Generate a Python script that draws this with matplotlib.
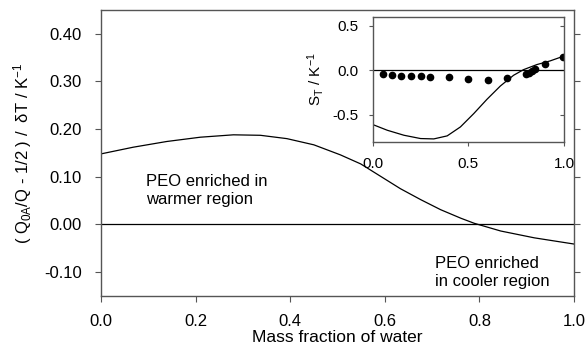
"""Main curve of (Q0A/Q - 1/2)/dT vs water mass fraction, with an S_T inset."""

import matplotlib

matplotlib.use("Agg")
import matplotlib.pyplot as plt
from matplotlib.lines import TICKLEFT

plt.rcParams["font.family"] = ["Liberation Sans", "DejaVu Sans"]
plt.rcParams["mathtext.default"] = "regular"

# main panel curve
main_x = [0.0, 0.068, 0.139, 0.210, 0.280, 0.337, 0.393, 0.450, 0.506, 0.549, 0.591, 0.633,
          0.676, 0.718, 0.761, 0.789, 0.845, 0.916, 1.0]
main_y = [0.148, 0.162, 0.174, 0.183, 0.188, 0.187, 0.180, 0.167, 0.146, 0.127, 0.101, 0.075,
          0.052, 0.031, 0.013, 0.0025, -0.0137, -0.028, -0.041]

# inset curve
inset_x = [0.0, 0.076, 0.163, 0.25, 0.319, 0.389, 0.458, 0.528, 0.597, 0.667, 0.736, 0.788,
           0.858, 0.927, 1.0]
inset_y = [-0.608, -0.672, -0.728, -0.765, -0.769, -0.735, -0.635, -0.485, -0.325, -0.176,
           -0.056, 0.007, 0.064, 0.105, 0.16]

# inset measured points
pts_x = [0.055, 0.10, 0.15, 0.20, 0.25, 0.30, 0.40, 0.50, 0.60, 0.70, 0.80, 0.815, 0.83, 0.85,
         0.90, 0.995]
pts_y = [-0.041, -0.048, -0.06, -0.06, -0.063, -0.071, -0.078, -0.093, -0.104, -0.086, -0.041,
         -0.025, -0.012, 0.011, 0.067, 0.153]

main_yticks = [-0.10, 0.00, 0.10, 0.20, 0.30, 0.40]
main_xticks = [0.0, 0.2, 0.4, 0.6, 0.8, 1.0]
inset_ticks_y = [-0.5, 0.0, 0.5]
inset_ticks_x = [0.0, 0.5, 1.0]

SPINE = "#555555"

fig = plt.figure(figsize=(5.87, 3.52), dpi=100)

ax = fig.add_axes([0.172, 0.159, 0.806, 0.813])
ax.plot(main_x, main_y, color="black", lw=0.9)
ax.axhline(0.0, color="black", lw=0.9)
ax.set_xlim(0, 1)
ax.set_ylim(-0.15, 0.45)
ax.set_xticks(main_xticks)
ax.set_xticklabels([f"{v:.1f}" for v in main_xticks])
ax.set_yticks(main_yticks)
ax.set_yticklabels([f"{v:.2f}" for v in main_yticks])
ax.tick_params(axis="both", direction="out", length=4, width=0.8, color=SPINE, labelsize=12)
ax.tick_params(axis="y", right=True, pad=10)
ax.tick_params(axis="x", pad=9)
for s in ax.spines.values():
    s.set_color(SPINE)
    s.set_linewidth(1.0)
ax.set_xlabel("Mass fraction of water", fontsize=12.5, labelpad=1)
ax.set_ylabel("( Q$_{0A}$/Q - 1/2 ) /  δT / K$^{-1}$", fontsize=12, labelpad=7)

ax.text(0.095, 0.105, "PEO enriched in\nwarmer region", fontsize=12, va="top", ha="left")
ax.text(0.705, -0.067, "PEO enriched\nin cooler region", fontsize=12, va="top", ha="left")

ins = fig.add_axes([0.635, 0.5975, 0.326, 0.355])
ins.set_facecolor("white")
ins.plot(inset_x, inset_y, color="black", lw=0.9)
ins.plot(pts_x, pts_y, "o", color="black", ms=4.5)
ins.axhline(0.0, color="black", lw=0.9)
ins.set_xlim(0, 1)
ins.set_ylim(-0.8, 0.6)
ins.set_xticks(inset_ticks_x)
ins.set_xticklabels([f"{v:.1f}" for v in inset_ticks_x])
ins.set_yticks(inset_ticks_y)
ins.set_yticklabels([f"{v:.1f}" for v in inset_ticks_y])
ins.tick_params(axis="both", direction="out", length=3, width=0.8, color=SPINE, labelsize=11)
ins.tick_params(axis="y", pad=7, right=True)
ins.tick_params(axis="x", pad=8)
for t in ins.yaxis.get_major_ticks():
    t.tick2line.set_marker(TICKLEFT)
for s in ins.spines.values():
    s.set_color(SPINE)
    s.set_linewidth(1.0)
ins.set_ylabel("S$_T$ / K$^{-1}$", fontsize=11, labelpad=5)

fig.savefig("out.png", dpi=100)
